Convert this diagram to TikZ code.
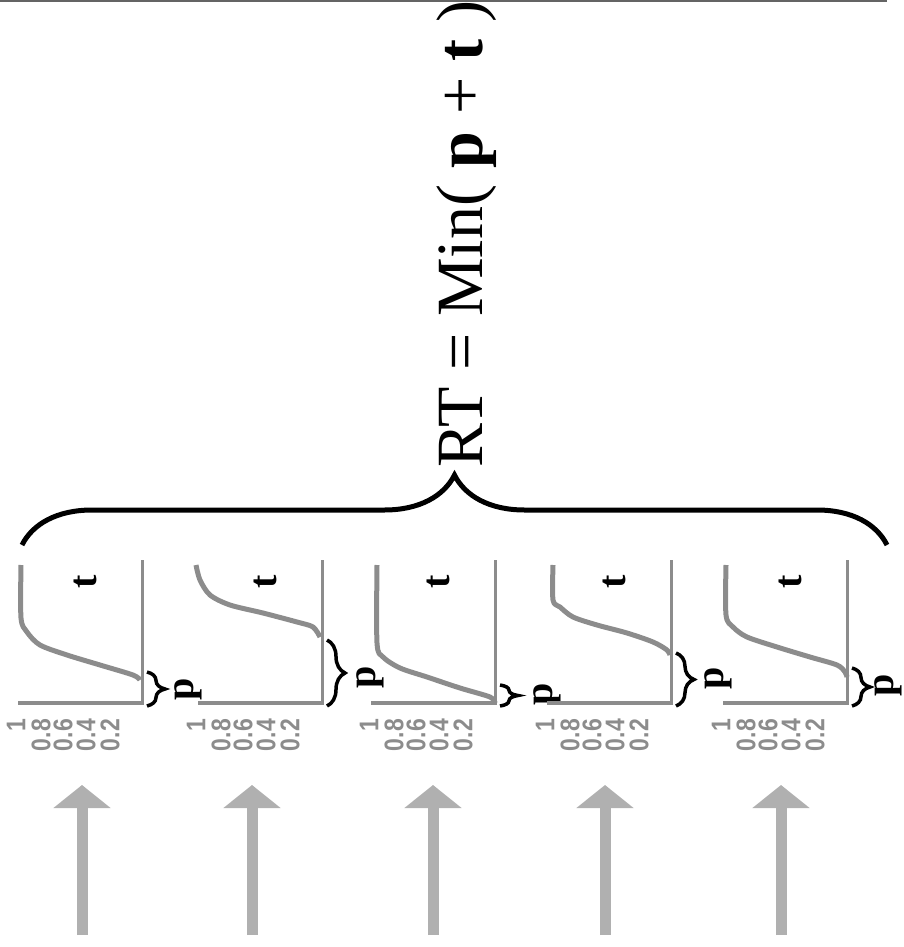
\documentclass[tikz,border=0pt]{standalone}
\usepackage{fontspec}
\setmainfont{Liberation Serif}
\setsansfont{Liberation Sans}
\usepackage{xcolor}
\usepackage{tikz}
\usetikzlibrary{arrows.meta,decorations.pathreplacing}

\definecolor{plotgray}{RGB}{140,140,140}
\definecolor{arrowgray}{RGB}{176,176,176}
\definecolor{rulegray}{RGB}{100,100,100}

\tikzset{
  curve/.style={draw=plotgray, line width=5pt, line join=round},
  axisline/.style={draw=plotgray, line width=4.5pt},
  cutline/.style={draw=plotgray, line width=3pt},
  ticklabel/.style={rotate=90, anchor=east, inner sep=0pt, text=plotgray,
                    font=\sffamily\bfseries\fontsize{27}{27}\selectfont},
  varlabel/.style={rotate=90, inner sep=0pt, font=\bfseries\fontsize{40}{40}\selectfont},
  pbrace/.style={decorate, decoration={brace, amplitude=18pt}, line width=3.5pt},
  bigbrace/.style={decorate, decoration={brace, amplitude=70pt}, line width=5pt},
  inarrow/.style={draw=arrowgray, line width=11pt, -{Triangle[length=23pt, width=56pt]}}
}

\begin{document}
\begin{tikzpicture}[x=1pt, y=-1pt]
    \useasboundingbox (0,0) rectangle (904,947);
    \draw [rulegray, line width=2pt] (0,1) -- (887,1);

    % the race: RT is the fastest of the five runners
    \node (title) [rotate=90, anchor=base, inner sep=0pt, font=\fontsize{66}{66}\selectfont] at (482,234)
        {RT = Min( \textbf{p} + \textbf{t} )};
    \coordinate (bl) at (22,545);
    \coordinate (br) at (887,545);
    \draw [bigbrace] (bl) -- (br);

    % one panel per runner: corner x, top of p, arrow x, p label position
    \foreach \cx/\py/\ax/\lx/\ly [count=\i] in {142/672/82/188/689, 322/640/252/370/677,
            495/685/433/547/694, 671/653/605/718/678, 847/668/781/888/685} {
        \draw [axisline] (\cx-124,703) -- (\cx+2,703);
        \draw [cutline] (\cx,560) -- (\cx,705);
        \foreach \v/\dx [count=\j] in {1/126, 0.8/101, 0.6/79, 0.4/56, 0.2/32}
            \node (tick\i-\j) [ticklabel] at (\cx-\dx,719) {\scalebox{0.85}[1]{\v}};
        \node (t\i) [varlabel] at (\cx-57,582) {t};

        \coordinate (ptop\i) at (\cx+5,\py);
        \coordinate (pbot\i) at (\cx+5,706);
        \draw [pbrace] (ptop\i) -- (pbot\i);
        \node (p\i) [varlabel] at (\lx,\ly) {p};

        \coordinate (abot\i) at (\ax,935);
        \coordinate (atop\i) at (\ax,785);
        \draw [inarrow] (abot\i) -- (atop\i);
    }

    % finishing-time distributions
    \draw [curve] plot [smooth, tension=0.5] coordinates {(21,565) (21,618) (27,632) (40,645)
        (67,655) (100,665) (133,675) (140,680)};
    \draw [curve] plot [smooth, tension=0.5] coordinates {(196,565) (200,580) (210,595) (230,605)
        (263,613) (297,622) (313,627) (320,637)};
    \draw [curve] plot [smooth, tension=0.5] coordinates {(377,565) (377,643) (383,657) (400,668)
        (427,677) (460,688) (490,697) (495,703)};
    \draw [curve] plot [smooth, tension=0.5] coordinates {(553,565) (553,600) (560,607) (573,617)
        (597,625) (627,633) (653,642) (667,650) (670,655)};
    \draw [curve] plot [smooth, tension=0.5] coordinates {(726,565) (726,615) (733,627) (747,637)
        (777,647) (810,657) (837,665) (845,672) (847,677)};
\end{tikzpicture}
\end{document}
